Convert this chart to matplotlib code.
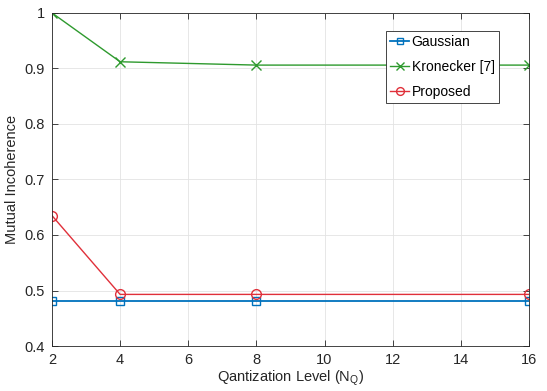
import matplotlib
matplotlib.use('Agg')
import matplotlib.pyplot as plt

plt.rcParams['font.family'] = ['Liberation Sans', 'DejaVu Sans']

# 数据
nq = [2, 4, 8, 16]
gaussian = [0.481, 0.481, 0.481, 0.481]
kronecker = [1.0, 0.912, 0.906, 0.906]
proposed = [0.635, 0.493, 0.493, 0.493]
xticks = [2, 4, 6, 8, 10, 12, 14, 16]
yticks = [0.4, 0.5, 0.6, 0.7, 0.8, 0.9, 1.0]

fig = plt.figure(figsize=(5.47, 3.91), dpi=100)
ax = fig.add_axes([0.095, 0.115, 0.872, 0.852])

ax.plot(nq, gaussian, color='#0072BD', marker='s', markersize=6,
        markerfacecolor='none', linewidth=1.3, label='Gaussian')
ax.plot(nq, kronecker, color='#2E9A2E', marker='x', markersize=7,
        linewidth=1.0, label='Kronecker [7]')
ax.plot(nq, proposed, color='#E0303A', marker='o', markersize=7,
        markerfacecolor='none', linewidth=1.0, label='Proposed')

ax.set_xlim(2, 16)
ax.set_ylim(0.4, 1.0)
ax.set_xticks(xticks)
ax.set_yticks(yticks)
ax.set_yticklabels(['0.4', '0.5', '0.6', '0.7', '0.8', '0.9', '1'])
ax.tick_params(direction='in', top=True, right=True, labelsize=10.5,
               colors='#262626', length=4, width=0.6, pad=5)
for sp in ax.spines.values():
    sp.set_color('#262626')
    sp.set_linewidth(0.6)
ax.grid(True, color='#e3e3e3', linewidth=0.6)
ax.set_axisbelow(True)

ax.set_xlabel('Qantization Level (N$_\\mathregular{Q}$)', fontsize=10.5, color='#262626', labelpad=1)
ax.set_ylabel('Mutual Incoherence', fontsize=10.5, color='#262626', labelpad=4)

leg = ax.legend(loc='upper right', bbox_to_anchor=(0.937, 0.946), borderaxespad=0,
                fontsize=10, fancybox=False, framealpha=1, edgecolor='#262626',
                handlelength=1.35, handletextpad=0.2, borderpad=0.3,
                labelspacing=0.78, markerscale=0.8)
leg.get_frame().set_linewidth(0.6)

fig.savefig('out.png', dpi=100)
